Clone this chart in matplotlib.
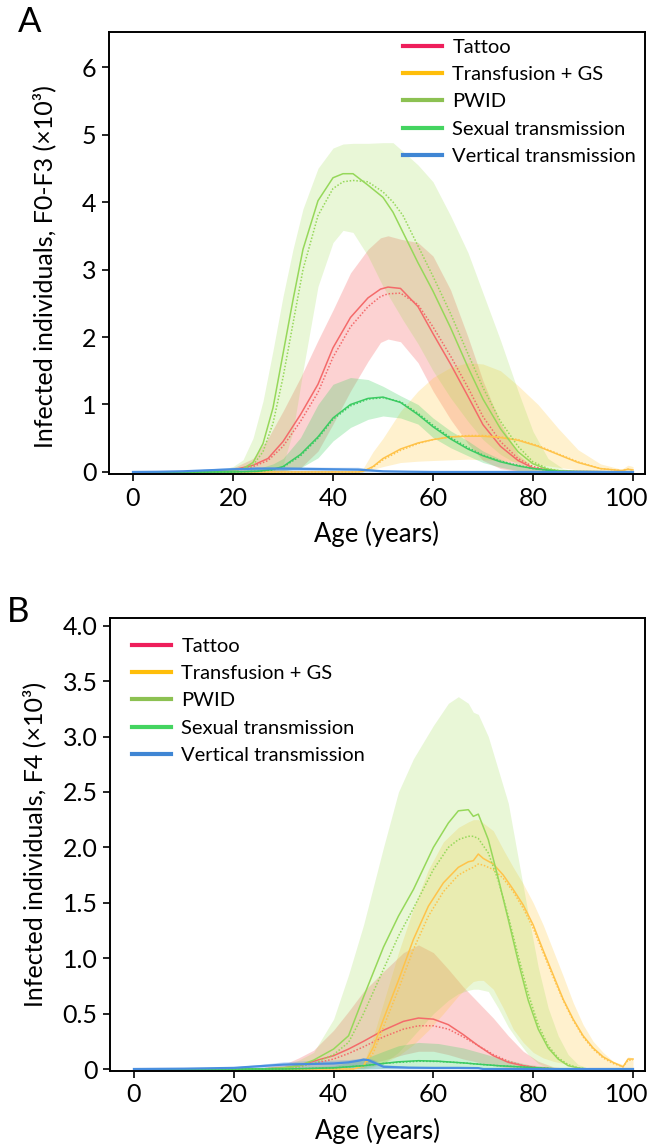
import matplotlib
matplotlib.use("Agg")
import matplotlib.pyplot as plt
import matplotlib.transforms as mtransforms
from matplotlib.lines import Line2D

plt.rcParams['font.family'] = ['Lato', 'DejaVu Sans']

# ---------------- Panel A data (F0-F3, x10^3) ----------------
tat_a_age = [0, 15, 20, 24, 27, 30, 33.5, 37, 40, 43.5, 47, 49.5, 51, 53.5, 57, 60, 63.5, 67, 70, 73.5, 77, 80, 85, 100]
tat_a_med = [0, 0.0, 0.03, 0.1, 0.2, 0.45, 0.85, 1.3, 1.84, 2.29, 2.58, 2.71, 2.74, 2.72, 2.45, 2.05, 1.6, 1.12, 0.7, 0.38, 0.17, 0.06, 0.01, 0]
tat_a_dot = [0, 0, 0.02, 0.08, 0.17, 0.38, 0.75, 1.18, 1.7, 2.15, 2.45, 2.6, 2.64, 2.65, 2.48, 2.15, 1.72, 1.25, 0.82, 0.45, 0.2, 0.08, 0.01, 0]
tat_a_lo = [0, 0, 0, 0, 0.01, 0.02, 0.06, 0.31, 0.71, 1.2, 1.64, 1.92, 1.97, 1.93, 1.62, 1.2, 0.78, 0.42, 0.17, 0.05, 0.01, 0, 0, 0]
tat_a_hi = [0, 0.01, 0.06, 0.2, 0.5, 0.9, 1.4, 1.95, 2.4, 2.95, 3.3, 3.47, 3.5, 3.45, 3.4, 3.2, 2.7, 2.0, 1.35, 0.72, 0.26, 0.07, 0.01, 0]

pwid_a_age = [0, 15, 18, 20, 22, 24, 26, 28, 30, 32, 34, 37, 40, 42, 44, 47, 50, 52, 54, 57, 60, 63.5, 67, 70, 73.5, 77, 80, 83, 86, 90, 100]
pwid_a_med = [0, 0, 0.01, 0.02, 0.05, 0.14, 0.42, 0.95, 1.75, 2.55, 3.3, 4.02, 4.36, 4.42, 4.42, 4.25, 4.07, 3.85, 3.55, 3.1, 2.68, 2.14, 1.55, 1.08, 0.64, 0.3, 0.12, 0.04, 0.01, 0, 0]
pwid_a_dot = [0, 0, 0.01, 0.02, 0.04, 0.1, 0.3, 0.72, 1.4, 2.2, 3.0, 3.8, 4.2, 4.3, 4.32, 4.3, 4.15, 4.0, 3.8, 3.35, 2.9, 2.35, 1.75, 1.25, 0.75, 0.38, 0.15, 0.05, 0.01, 0, 0]
pwid_a_lo = [0, 0, 0, 0, 0, 0, 0, 0.02, 0.1, 0.6, 1.5, 2.75, 3.4, 3.58, 3.55, 3.2, 2.75, 2.5, 2.25, 1.9, 1.5, 1.1, 0.75, 0.48, 0.26, 0.11, 0.04, 0.01, 0, 0, 0]
pwid_a_hi = [0, 0.01, 0.04, 0.08, 0.18, 0.5, 1.05, 1.8, 2.6, 3.3, 3.9, 4.5, 4.8, 4.86, 4.87, 4.87, 4.88, 4.88, 4.75, 4.55, 4.3, 3.8, 3.25, 2.65, 1.95, 1.2, 0.6, 0.2, 0.05, 0, 0]

sex_a_age = [0, 20, 25, 28, 30, 33.5, 37, 40, 43.5, 47, 50, 53.5, 57, 60, 63.5, 67, 70, 73.5, 77, 80, 85, 100]
sex_a_med = [0, 0, 0.01, 0.04, 0.08, 0.26, 0.52, 0.8, 1.0, 1.09, 1.11, 1.03, 0.85, 0.67, 0.49, 0.34, 0.24, 0.15, 0.09, 0.05, 0.01, 0]
sex_a_dot = [0, 0, 0.01, 0.03, 0.07, 0.24, 0.5, 0.78, 0.98, 1.08, 1.1, 1.04, 0.87, 0.69, 0.51, 0.36, 0.25, 0.16, 0.1, 0.05, 0.01, 0]
sex_a_lo = [0, 0, 0, 0, 0.01, 0.06, 0.21, 0.46, 0.66, 0.78, 0.83, 0.8, 0.71, 0.51, 0.36, 0.24, 0.14, 0.07, 0.02, 0.01, 0, 0]
sex_a_hi = [0, 0.01, 0.05, 0.12, 0.2, 0.51, 1.0, 1.3, 1.4, 1.37, 1.27, 1.13, 1.0, 0.8, 0.61, 0.46, 0.31, 0.19, 0.09, 0.04, 0.01, 0]

tra_a_age = [0, 45, 46, 48, 50, 53.5, 57, 60, 63.5, 67, 70, 73.5, 77, 81, 85, 89, 93.5, 97.7, 99, 100]
tra_a_med = [0, 0, 0.01, 0.08, 0.2, 0.34, 0.43, 0.48, 0.52, 0.53, 0.53, 0.51, 0.47, 0.38, 0.26, 0.14, 0.05, 0.02, 0.04, 0.03]
tra_a_dot = [0, 0, 0.01, 0.07, 0.18, 0.32, 0.42, 0.48, 0.52, 0.54, 0.54, 0.52, 0.48, 0.39, 0.27, 0.15, 0.05, 0.02, 0.04, 0.03]
tra_a_lo = [0, 0, 0, 0.04, 0.08, 0.14, 0.16, 0.17, 0.18, 0.19, 0.18, 0.17, 0.15, 0.11, 0.07, 0.03, 0.01, 0, 0, 0]
tra_a_hi = [0, 0, 0.05, 0.3, 0.5, 0.9, 1.2, 1.4, 1.55, 1.62, 1.6, 1.5, 1.28, 1.0, 0.65, 0.33, 0.12, 0.04, 0.1, 0.08]

ver_a_age = [0, 5, 10, 15, 20, 25, 30, 35, 40, 45, 48, 50, 55, 60, 100]
ver_a_med = [0, 0.003, 0.01, 0.025, 0.04, 0.05, 0.05, 0.045, 0.04, 0.035, 0.02, 0.01, 0.004, 0, 0]
ver_a_lo = [0, 0, 0, 0, 0, 0, 0, 0, 0, 0, 0, 0, 0, 0, 0]
ver_a_hi = [0, 0.008, 0.02, 0.045, 0.07, 0.08, 0.08, 0.075, 0.07, 0.07, 0.04, 0.02, 0.006, 0, 0]

# ---------------- Panel B data (F4, x10^3) ----------------
tat_b_age = [0, 25, 30, 33, 36, 40, 43, 46, 50, 54, 57, 60, 63, 66, 69, 72, 75, 78, 81, 84, 88, 100]
tat_b_med = [0, 0, 0.01, 0.03, 0.07, 0.12, 0.18, 0.25, 0.35, 0.43, 0.46, 0.45, 0.4, 0.31, 0.21, 0.12, 0.06, 0.03, 0.01, 0, 0, 0]
tat_b_dot = [0, 0, 0.005, 0.02, 0.05, 0.09, 0.14, 0.2, 0.29, 0.36, 0.39, 0.39, 0.36, 0.29, 0.21, 0.13, 0.07, 0.03, 0.01, 0, 0, 0]
tat_b_lo = [0, 0, 0, 0, 0, 0.01, 0.02, 0.04, 0.08, 0.13, 0.16, 0.16, 0.13, 0.09, 0.06, 0.03, 0.01, 0, 0, 0, 0, 0]
tat_b_hi = [0, 0.005, 0.04, 0.1, 0.17, 0.35, 0.52, 0.7, 0.88, 1.05, 1.12, 1.05, 0.9, 0.74, 0.6, 0.46, 0.3, 0.16, 0.07, 0.02, 0, 0]

pwid_b_age = [0, 25, 30, 33, 36, 40, 43, 46, 50, 53, 56, 60, 63, 65, 67, 68, 69, 71, 73, 75, 77, 79, 81, 83, 85, 87, 89, 91, 100]
pwid_b_med = [0, 0, 0.01, 0.03, 0.08, 0.18, 0.3, 0.65, 1.1, 1.38, 1.62, 2.0, 2.22, 2.33, 2.34, 2.28, 2.3, 2.07, 1.72, 1.35, 0.97, 0.62, 0.36, 0.19, 0.09, 0.03, 0.01, 0, 0]
pwid_b_dot = [0, 0, 0.01, 0.02, 0.05, 0.13, 0.24, 0.5, 0.9, 1.2, 1.45, 1.8, 2.0, 2.07, 2.1, 2.1, 2.08, 1.95, 1.7, 1.38, 1.02, 0.68, 0.4, 0.21, 0.1, 0.04, 0.01, 0, 0]
pwid_b_lo = [0, 0, 0, 0, 0, 0, 0, 0.01, 0.05, 0.15, 0.3, 0.5, 0.62, 0.68, 0.71, 0.72, 0.72, 0.7, 0.55, 0.38, 0.25, 0.13, 0.05, 0.01, 0, 0, 0, 0, 0]
pwid_b_hi = [0, 0, 0.03, 0.08, 0.15, 0.45, 0.85, 1.3, 2.0, 2.5, 2.8, 3.1, 3.3, 3.36, 3.3, 3.22, 3.2, 3.0, 2.7, 2.4, 1.9, 1.4, 0.92, 0.55, 0.3, 0.13, 0.04, 0.01, 0]

sex_b_age = [0, 30, 40, 46, 50, 53, 57, 61, 66, 70, 73, 79, 85, 100]
sex_b_med = [0, 0, 0.01, 0.03, 0.05, 0.065, 0.075, 0.07, 0.055, 0.04, 0.03, 0.015, 0, 0]
sex_b_dot = [0, 0, 0.01, 0.03, 0.05, 0.06, 0.07, 0.068, 0.055, 0.04, 0.03, 0.015, 0, 0]
sex_b_lo = [0, 0, 0, 0, 0.005, 0.01, 0.015, 0.015, 0.01, 0.005, 0, 0, 0, 0]
sex_b_hi = [0, 0, 0.03, 0.09, 0.16, 0.21, 0.24, 0.23, 0.19, 0.14, 0.1, 0.04, 0.01, 0]

tra_b_age = [0, 44, 46, 48, 50, 53, 56, 59, 62, 65, 67, 68, 69, 70, 72, 74, 76, 78, 80, 82, 84, 86, 88, 90, 92, 94, 96, 98, 99, 100]
tra_b_med = [0, 0, 0.03, 0.2, 0.45, 0.8, 1.17, 1.47, 1.68, 1.82, 1.87, 1.88, 1.94, 1.9, 1.85, 1.75, 1.62, 1.48, 1.3, 1.07, 0.85, 0.63, 0.45, 0.3, 0.19, 0.11, 0.06, 0.02, 0.09, 0.09]
tra_b_dot = [0, 0, 0.02, 0.15, 0.38, 0.72, 1.08, 1.38, 1.6, 1.75, 1.8, 1.82, 1.85, 1.84, 1.8, 1.72, 1.6, 1.45, 1.27, 1.05, 0.83, 0.62, 0.44, 0.29, 0.18, 0.1, 0.05, 0.02, 0.08, 0.08]
tra_b_lo = [0, 0, 0, 0.02, 0.05, 0.12, 0.22, 0.35, 0.5, 0.66, 0.75, 0.79, 0.8, 0.8, 0.72, 0.55, 0.36, 0.24, 0.15, 0.1, 0.07, 0.05, 0.03, 0.02, 0.01, 0, 0, 0, 0, 0]
tra_b_hi = [0, 0, 0.05, 0.3, 0.6, 1.05, 1.45, 1.8, 2.05, 2.18, 2.23, 2.25, 2.25, 2.22, 2.15, 1.98, 1.82, 1.67, 1.5, 1.3, 1.07, 0.84, 0.6, 0.4, 0.25, 0.15, 0.07, 0.04, 0.11, 0.1]

ver_b_age = [0, 10, 20, 25, 30, 35, 40, 43, 45, 46, 47, 48, 50, 55, 60, 65, 69, 70, 100]
ver_b_med = [0, 0.003, 0.01, 0.025, 0.04, 0.045, 0.05, 0.06, 0.075, 0.085, 0.08, 0.06, 0.02, 0.012, 0.01, 0.01, 0.008, 0, 0]
ver_b_lo = [0] * 19
ver_b_hi = [0, 0.006, 0.02, 0.04, 0.065, 0.075, 0.08, 0.085, 0.095, 0.1, 0.1, 0.085, 0.04, 0.025, 0.02, 0.02, 0.015, 0, 0]

labels = ["Tattoo", "Transfusion + GS", "PWID", "Sexual transmission", "Vertical transmission"]
legend_colors = ["#EE1E5B", "#FFBE0A", "#8CC152", "#44D460", "#3F86D4"]
band_colors = ["#F76D6D", "#FFC83C", "#9BDB4D", "#4CD46A", "#4A8FE0"]
band_alpha = [0.30, 0.25, 0.22, 0.30, 0.30]
line_colors = ["#F46A6A", "#FFC34A", "#96D85A", "#3CCB62", "#4A8FE0"]

W, H = 648, 1144
fig = plt.figure(figsize=(W / 100, H / 100), dpi=100)


def make_axes(l, t, r, b):
    return fig.add_axes([l / W, 1 - b / H, (r - l) / W, (b - t) / H])


axA = make_axes(109, 32, 645, 474)
axB = make_axes(110, 618, 645, 1071)


def draw(ax, series):
    # series order: tattoo, transfusion, pwid, sexual, vertical
    for i, s in enumerate(series):
        age, med, dot, lo, hi = s
        ax.fill_between(age, lo, hi, color=band_colors[i], alpha=band_alpha[i], lw=0)
    for i, s in enumerate(series):
        age, med, dot, lo, hi = s
        lw = 1.6 if i == 4 else 1.1
        if dot is not None:
            ax.plot(age, dot, color=line_colors[i], lw=1.1, ls=(0, (1, 1.2)))
        ax.plot(age, med, color=line_colors[i], lw=lw)


seriesA = [
    (tat_a_age, tat_a_med, tat_a_dot, tat_a_lo, tat_a_hi),
    (tra_a_age, tra_a_med, tra_a_dot, tra_a_lo, tra_a_hi),
    (pwid_a_age, pwid_a_med, pwid_a_dot, pwid_a_lo, pwid_a_hi),
    (sex_a_age, sex_a_med, sex_a_dot, sex_a_lo, sex_a_hi),
    (ver_a_age, ver_a_med, None, ver_a_lo, ver_a_hi),
]
seriesB = [
    (tat_b_age, tat_b_med, tat_b_dot, tat_b_lo, tat_b_hi),
    (tra_b_age, tra_b_med, tra_b_dot, tra_b_lo, tra_b_hi),
    (pwid_b_age, pwid_b_med, pwid_b_dot, pwid_b_lo, pwid_b_hi),
    (sex_b_age, sex_b_med, sex_b_dot, sex_b_lo, sex_b_hi),
    (ver_b_age, ver_b_med, None, ver_b_lo, ver_b_hi),
]

draw(axA, seriesA)
draw(axB, seriesB)

x_ticks = [0, 20, 40, 60, 80, 100]
ya_ticks = [0, 1, 2, 3, 4, 5, 6]
yb_ticks = [0, 0.5, 1.0, 1.5, 2.0, 2.5, 3.0, 3.5, 4.0]
yb_labels = ["0", "0.5", "1.0", "1.5", "2.0", "2.5", "3.0", "3.5", "4.0"]

for ax in (axA, axB):
    ax.set_xlim(-4.8, 102.4)
    ax.set_xticks(x_ticks)
    ax.tick_params(direction='out', length=5, width=1.2, labelsize=18, pad=4)
    for sp in ax.spines.values():
        sp.set_linewidth(1.4)
    ax.set_xlabel("Age (years)", fontsize=18.5, labelpad=8)
    # keep the "100" label inside the figure
    lab = ax.get_xticklabels()[-1]
    lab.set_transform(lab.get_transform() + mtransforms.ScaledTranslation(-6 / 100, 0, fig.dpi_scale_trans))

axA.set_ylim(-0.03, 6.52)
axA.set_yticks(ya_ticks)
axA.set_ylabel("Infected individuals, F0-F3 (×10³)", fontsize=18)
axA.yaxis.set_label_coords(-0.098, 0.47)

axB.set_ylim(-0.018, 4.07)
axB.set_yticks(yb_ticks)
axB.set_yticklabels(yb_labels)
axB.set_ylabel("Infected individuals, F4 (×10³)", fontsize=18)
axB.yaxis.set_label_coords(-0.12, 0.5)

handles = [Line2D([0], [0], color=c, lw=3) for c in legend_colors]
leg_kw = dict(frameon=False, fontsize=14.5, handlelength=1.95, handletextpad=0.5,
              labelspacing=0.5, borderaxespad=0, borderpad=0)
axA.legend(handles, labels, loc='upper left',
           bbox_to_anchor=((403 - 109) / (645 - 109), 1.0 - (39 - 32) / 442), **leg_kw)
axB.legend(handles, labels, loc='upper left',
           bbox_to_anchor=((132 - 110) / (645 - 110), 1.0 - (638 - 618) / 453), **leg_kw)

fig.text(30 / W, 1 - 22 / H, "A", fontsize=25, ha='center', va='center')
fig.text(18 / W, 1 - 612 / H, "B", fontsize=25, ha='center', va='center')

fig.savefig("out.png", dpi=100)
